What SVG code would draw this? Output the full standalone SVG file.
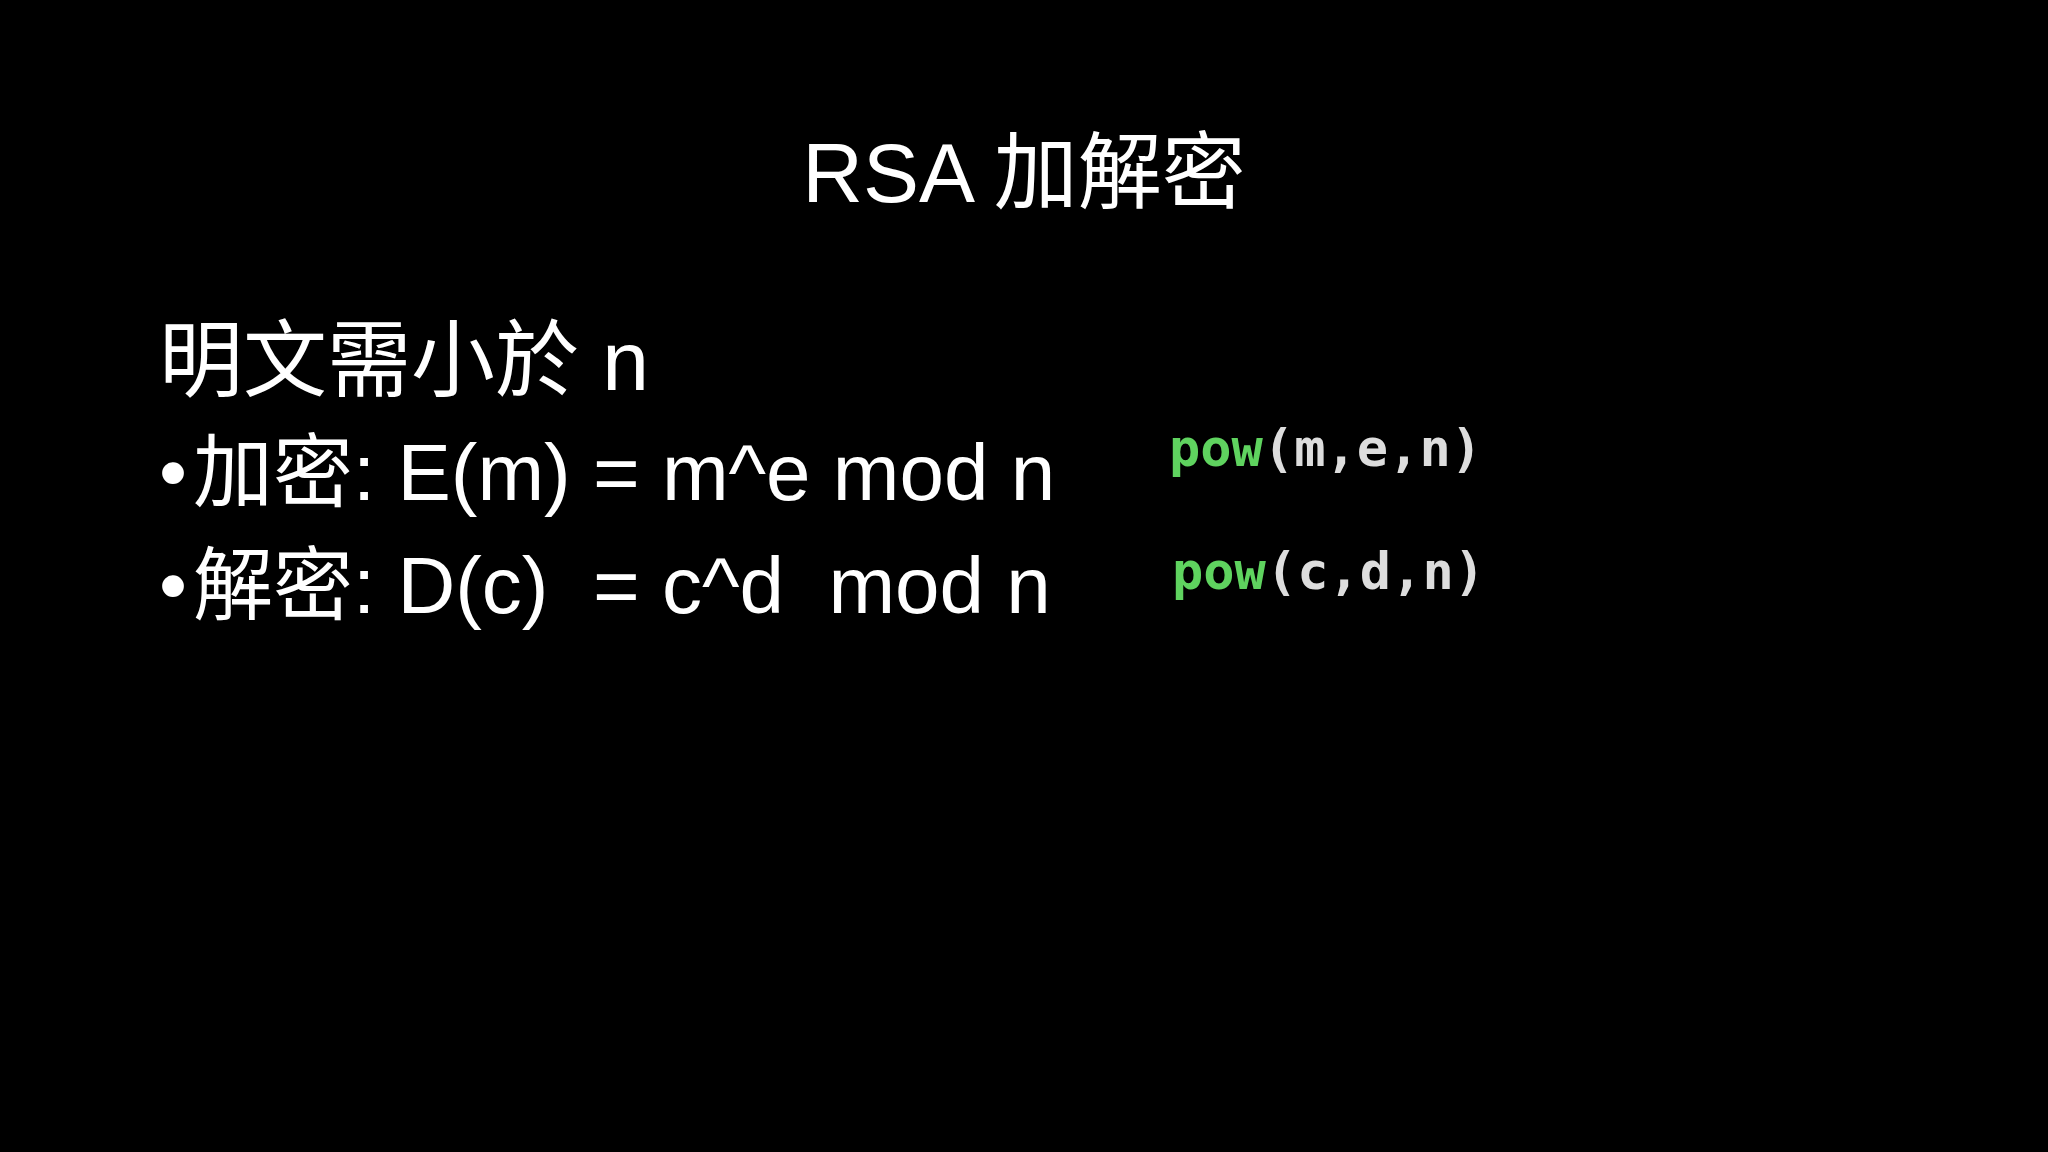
<svg xmlns="http://www.w3.org/2000/svg" width="2048" height="1152" viewBox="0 0 2048 1152">
<style>
.t{font-family:"Liberation Sans","Noto Sans CJK TC",sans-serif;fill:#fff}
.m{font-family:"DejaVu Sans Mono","Liberation Mono",monospace;font-size:52px;font-weight:bold;fill:#ddd}
.g{fill:#5fd35f}
</style>
<rect width="2048" height="1152" fill="#000"/>
<g id="title"><text class="t" x="1024" y="202" font-size="84" text-anchor="middle">RSA 加解密</text></g>
<g id="body">
<text class="t" x="159" y="390" font-size="84">明文需小於 n</text>
<text class="t" x="159" y="500" font-size="80">•</text>
<text class="t" x="193" y="500" font-size="80">加密: E(m) = m^e mod n</text>
<text class="t" x="159" y="613" font-size="80">•</text>
<text class="t" x="193" y="613" font-size="80" xml:space="preserve">解密: D(c)  = c^d  mod n</text>
<text class="m" x="1169" y="466"><tspan class="g">pow</tspan>(m,e,n)</text>
<text class="m" x="1172" y="589"><tspan class="g">pow</tspan>(c,d,n)</text>
</g>
</svg>
